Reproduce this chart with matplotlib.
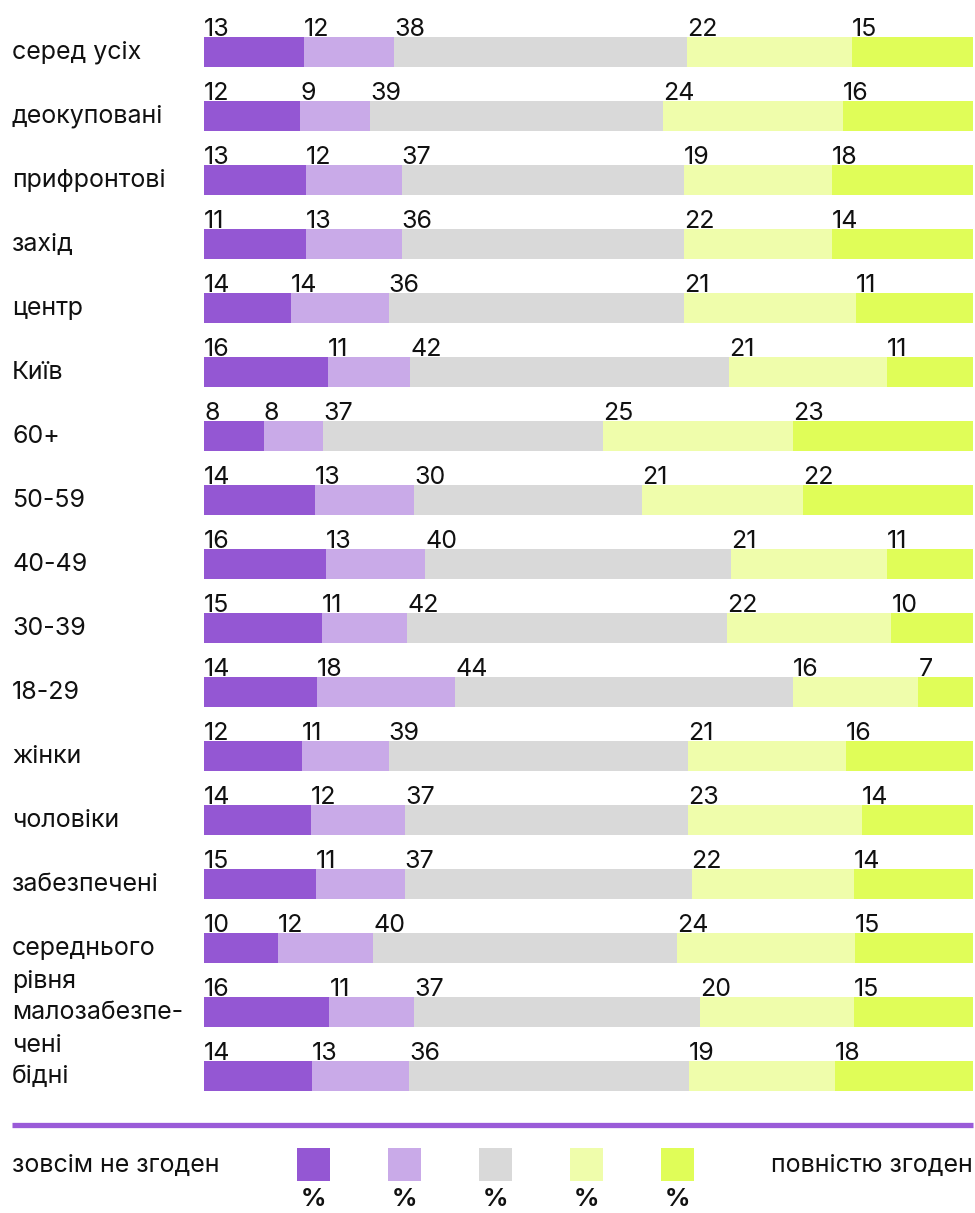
import matplotlib.pyplot as plt
from matplotlib.transforms import blended_transform_factory

# ============================================================
# Data
# ============================================================
groups = ['серед усіх', 'деокуповані', 'прифронтові', 'захід', 'центр', 'Київ',
          '60+', '50-59', '40-49', '30-39', '18-29', 'жінки', 'чоловіки',
          'забезпечені', 'середнього\nрівня', 'малозабезпе-\nчені', 'бідні']

# widths of the segments (share of bar, %)
share_1 = [13.0, 12.5, 13.3, 13.3, 11.3, 16.1, 7.8, 14.4, 15.9, 15.3, 14.7, 12.7, 13.9, 14.6, 9.6, 16.3, 14.0]
share_2 = [11.7, 9.1, 12.4, 12.4, 12.7, 10.7, 7.7, 12.9, 12.9, 11.1, 18.0, 11.3, 12.3, 11.5, 12.4, 11.0, 12.7]
share_3 = [38.1, 38.1, 36.7, 36.7, 38.4, 41.5, 36.4, 29.7, 39.7, 41.6, 43.9, 39.0, 36.8, 37.3, 39.5, 37.2, 36.4]
share_4 = [21.5, 23.4, 19.3, 19.3, 22.4, 20.5, 24.7, 20.9, 20.3, 21.4, 16.3, 20.5, 22.6, 21.1, 23.1, 20.0, 18.9]
share_5 = [15.7, 16.9, 18.3, 18.3, 15.2, 11.2, 23.4, 22.1, 11.2, 10.6, 7.1, 16.5, 14.4, 15.5, 15.4, 15.5, 18.0]

# numbers printed above the segments
label_1 = [13, 12, 13, 11, 14, 16, 8, 14, 16, 15, 14, 12, 14, 15, 10, 16, 14]
label_2 = [12, 9, 12, 13, 14, 11, 8, 13, 13, 11, 18, 11, 12, 11, 12, 11, 13]
label_3 = [38, 39, 37, 36, 36, 42, 37, 30, 40, 42, 44, 39, 37, 37, 40, 37, 36]
label_4 = [22, 24, 19, 22, 21, 21, 25, 21, 21, 22, 16, 21, 23, 22, 24, 20, 19]
label_5 = [15, 16, 18, 14, 11, 11, 23, 22, 11, 10, 7, 16, 14, 14, 15, 15, 18]

legend_left = 'зовсім не згоден'
legend_right = 'повністю згоден'
colors = ['#9457d3', '#c9aae8', '#d9d9d9', '#effdab', '#e0fd58']

shares = [share_1, share_2, share_3, share_4, share_5]
labels = [label_1, label_2, label_3, label_4, label_5]

plt.rcParams['font.family'] = ['Inter', 'DejaVu Sans']
TXT = '#111111'
FS = 18

# ============================================================
# Layout (pixels)
# ============================================================
W, H = 975, 1213
X0, X1 = 204, 973
Y_FIRST, PITCH, BAR_H = 52, 64, 30
LINE_STEP = 33

fig = plt.figure(figsize=(W / 100, H / 100), dpi=100)
ax = fig.add_axes([X0 / W, 0, (X1 - X0) / W, 1])
ax.set_xlim(0, 100)
ax.set_ylim((H - Y_FIRST) / PITCH, -Y_FIRST / PITCH)
ax.axis('off')

ypos = list(range(len(groups)))
h = BAR_H / PITCH
left = [0.0] * len(groups)
for k in range(5):
    ax.barh(ypos, shares[k], left=left, height=h, color=colors[k], linewidth=0)
    for i in ypos:
        ax.text(left[i], i - h / 2 - 1 / PITCH, str(labels[k][i]),
                ha='left', va='baseline', fontsize=FS, color=TXT)
    left = [a + b for a, b in zip(left, shares[k])]

# group labels on the left, first line level with the bar
tr = blended_transform_factory(fig.transFigure, ax.transData)
for i, g in enumerate(groups):
    for j, line in enumerate(g.split('\n')):
        ax.text(12 / W, i + (7 + j * LINE_STEP) / PITCH, line, transform=tr,
                ha='left', va='baseline', fontsize=FS, color=TXT)

# separator line
fig.add_artist(plt.Line2D([12 / W, X1 / W], [1 - 1124.5 / H] * 2,
                          color='#9a5bd8', linewidth=3.8, solid_capstyle='butt'))

# legend swatches
lax = fig.add_axes([297 / W, 1 - 1181 / H, 397 / W, 33 / H])
sw = 33 / 91
lax.set_xlim(-sw / 2, 4 + sw / 2)
lax.set_ylim(0, 1)
lax.axis('off')
lax.bar(range(5), [1] * 5, width=sw, color=colors, linewidth=0)
for i in range(5):
    lax.text(i, -0.55, '%', ha='center', va='center', fontsize=FS,
             fontweight='bold', color=TXT)

fig.text(12 / W, 1 - 1165 / H, legend_left, ha='left', va='center',
         fontsize=FS, color=TXT)
fig.text(X1 / W, 1 - 1165 / H, legend_right, ha='right', va='center',
         fontsize=FS, color=TXT)

fig.savefig('out.png', dpi=100, facecolor='white')
